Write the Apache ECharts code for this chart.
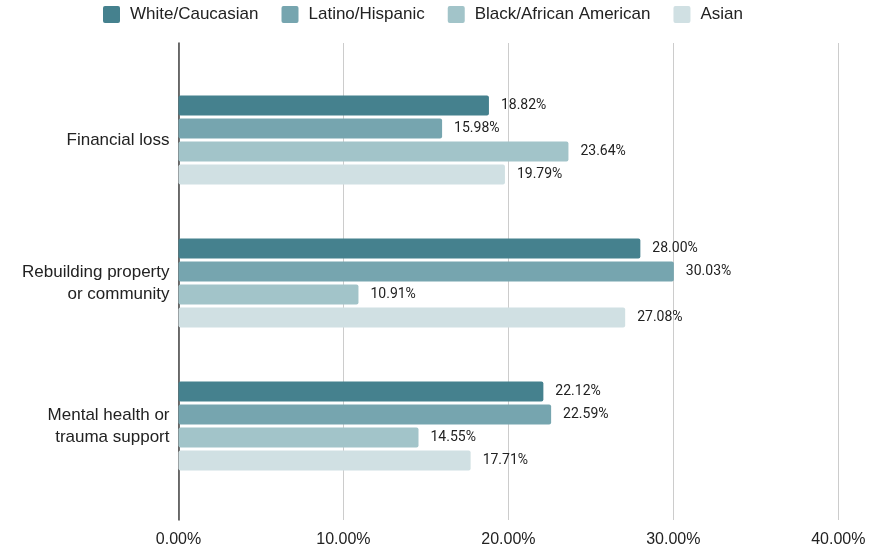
<!DOCTYPE html>
<html><head><meta charset="utf-8">
<script src="https://cdn.jsdelivr.net/npm/echarts@6/dist/echarts.min.js"></script>
<style>html,body{margin:0;padding:0;background:#fff}#c{width:881px;height:548px}</style>
</head><body><div id="c"></div>
<script>
const categories = ["Financial loss", "Rebuilding property\nor community", "Mental health or\ntrauma support"];
const seriesNames = ["White/Caucasian", "Latino/Hispanic", "Black/African American", "Asian"];
const white = [18.82, 28.00, 22.12];
const latino = [15.98, 30.03, 22.59];
const black = [23.64, 10.91, 14.55];
const asian = [19.79, 27.08, 17.71];
const xTicks = [0, 10, 20, 30, 40];
const colors = ["#45818e", "#76a5af", "#a2c4c9", "#d0e0e3"];
const values = [white, latino, black, asian];

const chart = echarts.init(document.getElementById('c'));
const L = 178.5, R = 881 - 838.3;
chart.setOption({
  animation: false,
  color: colors,
  legend: {
    top: 1, left: 98,
    itemWidth: 17, itemHeight: 17, itemGap: 23,
    icon: 'path://M2,0 L15,0 Q17,0 17,2 L17,15 Q17,17 15,17 L2,17 Q0,17 0,15 L0,2 Q0,0 2,0 Z',
    textStyle: { fontFamily: 'Liberation Sans, Arial', fontSize: 17, color: '#222', padding: [0,0,0,5] },
    data: seriesNames
  },
  grid: [
    { left: L, right: R, top: 68.5, height: 429, containLabel: false },
    { left: L, right: R, top: 43, bottom: 26, containLabel: false }
  ],
  xAxis: [
    { gridIndex: 0, type: 'value', min: xTicks[0], max: xTicks[xTicks.length-1], interval: 10, show: false },
    { gridIndex: 1, type: 'value', min: xTicks[0], max: xTicks[xTicks.length-1], interval: 10,
      axisLine: { show: false }, axisTick: { show: false },
      splitLine: { show: true, lineStyle: { color: '#cccccc', width: 1 } },
      axisLabel: { margin: 12, fontFamily: 'Liberation Sans, Arial', fontSize: 16, color: '#222',
        formatter: v => v.toFixed(2) + '%' } }
  ],
  yAxis: [
    { gridIndex: 0, type: 'category', data: categories, inverse: true,
      axisLine: { show: false }, axisTick: { show: false },
      axisLabel: { margin: 9, fontFamily: 'Liberation Sans, Arial', fontSize: 17, color: '#222', lineHeight: 22, align: 'right', padding: [3,0,0,0] } },
    { gridIndex: 1, type: 'value', min: 0, max: 1,
      axisLine: { show: true, lineStyle: { color: '#444', width: 1.5 } },
      axisTick: { show: false }, axisLabel: { show: false }, splitLine: { show: false } }
  ],
  series: seriesNames.map((name, i) => ({
    name, type: 'bar', xAxisIndex: 0, yAxisIndex: 0,
    data: values[i], barWidth: 20, barGap: '15%',
    itemStyle: { color: colors[i], borderRadius: 2 },
    label: { show: true, position: 'right', distance: 12,
      fontFamily: 'Roboto', fontSize: 14, color: '#222',
      formatter: p => p.value.toFixed(2) + '%' },
    z: 3
  }))
});
</script></body></html>
